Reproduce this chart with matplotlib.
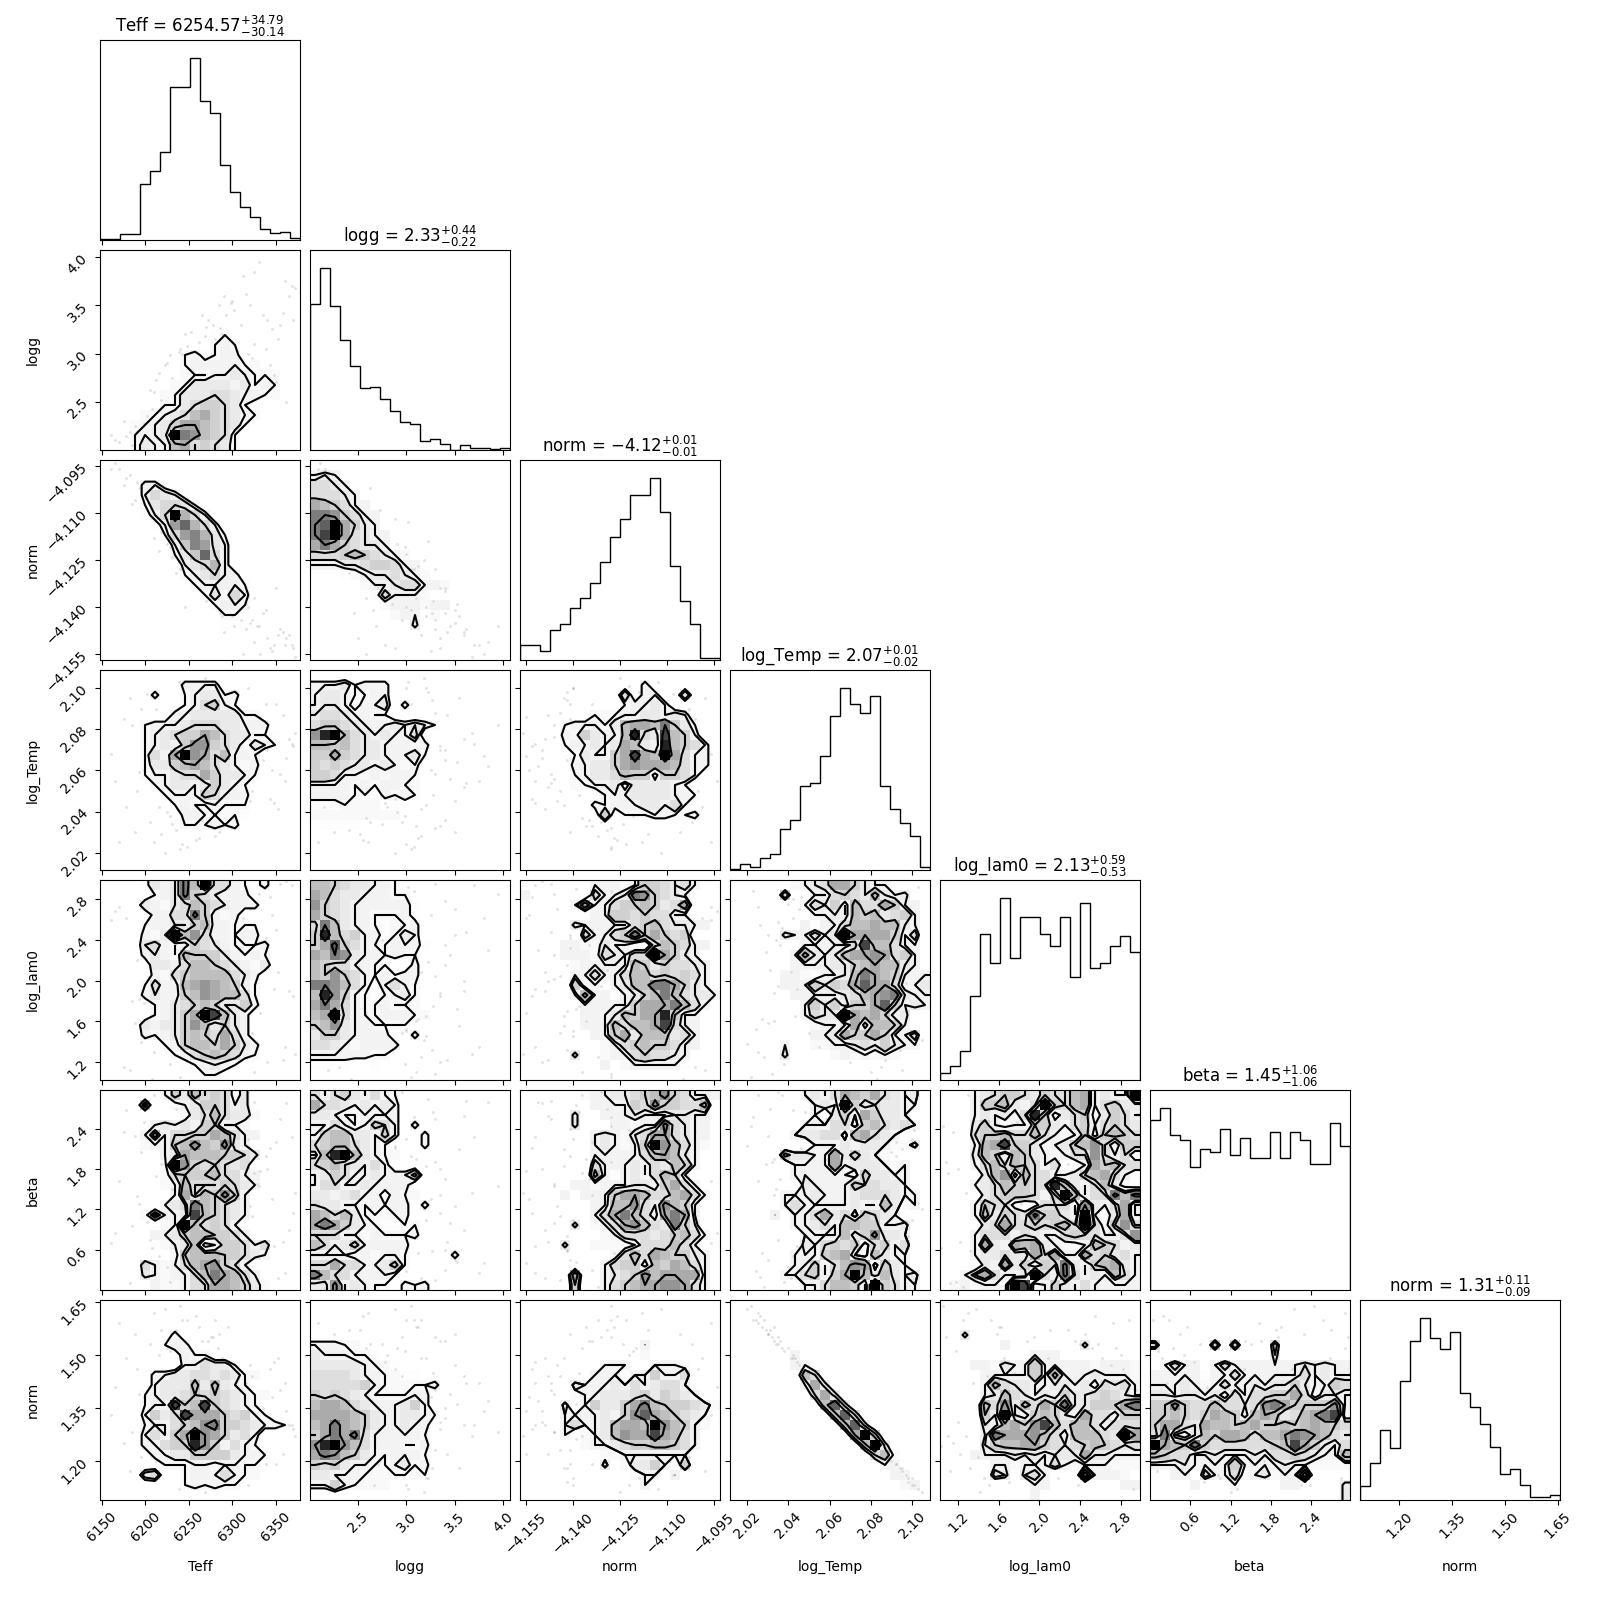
import numpy as np
import matplotlib
matplotlib.use("Agg")
import matplotlib.pyplot as plt
from matplotlib.colors import LinearSegmentedColormap

names = ["Teff", "logg", "norm", "log_Temp", "log_lam0", "beta", "norm"]
titles = [r"Teff = $6254.57_{-30.14}^{+34.79}$", r"logg = $2.33_{-0.22}^{+0.44}$",
          r"norm = $-4.12_{-0.01}^{+0.01}$", r"log_Temp = $2.07_{-0.02}^{+0.01}$",
          r"log_lam0 = $2.13_{-0.53}^{+0.59}$", r"beta = $1.45_{-1.06}^{+1.06}$",
          r"norm = $1.31_{-0.09}^{+0.11}$"]
ranges = [(6147.7, 6377.6), (1.998, 4.075), (-4.1569, -4.0931), (2.0116, 2.1087),
          (1.0217, 2.99), (0.0, 2.98), (1.088, 1.656)]
tick_vals = [[6150, 6200, 6250, 6300, 6350], [2.5, 3.0, 3.5, 4.0],
             [-4.155, -4.14, -4.125, -4.11, -4.095], [2.02, 2.04, 2.06, 2.08, 2.10],
             [1.2, 1.6, 2.0, 2.4, 2.8], [0.6, 1.2, 1.8, 2.4], [1.20, 1.35, 1.50, 1.65]]
tick_txt = [["6150", "6200", "6250", "6300", "6350"], ["2.5", "3.0", "3.5", "4.0"],
            ["\u22124.155", "\u22124.140", "\u22124.125", "\u22124.110", "\u22124.095"],
            ["2.02", "2.04", "2.06", "2.08", "2.10"], ["1.2", "1.6", "2.0", "2.4", "2.8"],
            ["0.6", "1.2", "1.8", "2.4"], ["1.20", "1.35", "1.50", "1.65"]]

hist_teff = [2,2,17,17,168,206,263,458,458,545,417,380,225,144,98,68,33,21,24,6]
hist_logg = [438,547,433,330,253,186,189,154,118,84,78,27,33,19,1,15,6,6,2,7]
hist_norm = [44,44,26,89,108,155,185,230,293,368,422,494,494,545,443,282,176,108,7,7]
hist_temp = [2,18,9,35,48,123,150,252,260,341,461,545,498,471,521,252,182,141,101,10]
hist_lam0 = [20,41,86,252,438,351,546,366,489,489,438,403,489,309,531,336,351,403,433,385]
hist_beta = [509,545,464,449,368,423,413,482,404,455,395,395,473,395,473,449,377,377,500,431]
hist_norm2 = [42,111,210,156,357,477,546,486,453,504,321,279,228,159,78,93,45,10,10,14]
hists = [hist_teff, hist_logg, hist_norm, hist_temp, hist_lam0, hist_beta, hist_norm2]

Z = "0" * 20
# counts per 20x20 cell, top row first, one hex digit per cell
H_1_0 = [Z,Z,Z,Z,Z,Z,Z,Z,"00000000000120000000","00000000000232000000","00000000231233000000",
 "00000000233333220000","00000000222334322200","00000002244443423200","00000022444554332200",
 "00000022456654210000","00002234578654320000","00022346887654200000","0002334ea97652000000",
 "00024337856542000000"]
H_2_0 = [Z,Z,"00003310000000000000","00003543100000000000","00002455420000000000","0000135d753000000000",
 "00000138a75300000000","00000025897420000000","00000003698430000000","0000000246a530000000",
 "00000000345730000000","00000000234533000000","00000000023333200000","00000000002425300000",
 "00000000000233200000","00000000000022100000","00000000000011110000",Z,Z,Z]
H_3_0 = [Z,"00000000333300000000","00000300234423000000","00000000235632000000","00000003344444220000",
 "00002333455544333000","00002345668754422100","00002343699654243200","00002538e98573320000",
 "00002446787543230000","00002334558644320000","00000234434643200000","00000023336533300000",
 "00000002322322200000","00000000332222100000","00000001222323000000",Z,Z,Z,Z]
H_4_0 = ["00001434a7e553213000","00000234a65433300000","00004324576543330000","000003355a6323000000",
 "00002334467332220000","0000324e795332330000","00004532365432223000","00003432766643232000",
 "00000443577654324000","00000325677775430000","00002533789876320000","00003433679877520000",
 "00000234567644630000","0000023468ec74300000","00004344697464300000","00003234676585300000",
 "00000023677686430000","00000002356765320000","00000000123432000000","00000000012210000000"]
H_5_0 = ["00000036475652400000","00007002346653400000","00000000245754420000","00000343436633200000",
 "00003735566875330000","00002336797694300000","00000034877766540000","0000002e965654500000",
 "00000025666755330000","00000023755565430000","00000003857696300000","000000345a7654300000",
 "000027334c7654300000","00000023e75653000000","00000334677665300000","00000023472366535000",
 "00000002677766543000","00005323578965300000","00004323357a87530000","00000322355887642000"]
H_6_0 = [Z,Z,Z,"00000003000000000000","00000023300000000000","00000001322000000000","00000000335442000000",
 "00000334455454220000","00000344474743200000","00002344565654322000","0000233c67c654320000",
 "00003645c88865632000","00002335679a66543320","000035368e9864530000","000033566d9635320000",
 "00000334466664332000","00000022233233221000","00004500233353220000","00000000232322000000",Z]
H_2_1 = [Z,"34300000000000000000","55430000000000000000","55543000000000000000","87653300000000000000",
 "aa965330000000000000","abe86430000000000000","ace85433000000000000","8a865443000000000000",
 "55567654320000000000","33344566533000000000","00012344543200000000","00000233455332000000",
 "00000025333200000000","00000002333233000000","00000000233020000000","00000000004000000000",Z,Z,Z]
H_3_1 = [Z,"33342333000000000000","34432233000000000000","34431334030000000000","45543322000000000000",
 "56654333434320000000","9de75434335000000000","77675443332300000000","66865443334200000000",
 "65654434323000000000","66533232332000000000","33332323322000000000","33332203232000000000",
 "11122220110000000000","22222222200000000000","01111000000000000000",Z,Z,Z,Z]
H_4_1 = ["77654433210000000000","87544333220000000000","96543333331000000000","86543322231000000000",
 "5a743321223000000000","6d756331243000000000","68b65322333100000000","87a94332322000000000",
 "76553322003000000000","76965323233000000000","aa975313532000000000","7d963212342000000000",
 "8a853223222000000000","78e53223332200000000","67943322220000000000","46643333003000000000",
 "55432333300000000000","33333322000000000000","11110010000000000000",Z]
H_5_1 = ["53564353200000000000","85543434300000000000","44322333300000000000","33532365303000000000",
 "36774436300300000000","56775432000300000000","27de7432200000000000","56754353000000000000",
 "34653343336000000000","35533433330000000000","44345331322000000000","54433232330300000000",
 "87574222230000000000","8a864321122000000000","55533232223000000000","75346333330000000000",
 "33332323320000300000","55855334620000000000","a7553333200000000000","44934322032300000000"]
H_6_1 = [Z,Z,Z,Z,"33322000000000000000","43332210000000000000","44444322100000000000","55554332211000000000",
 "55555632222230000000","65654322223300000000","78875433346300000000","88887643344320000000",
 "78a87643343300000000","68a8a533333200000000","9de97533322300000000","8a976432333200000000",
 "65643322342300000000","44333222222200000000","33632222000000000000",Z]
H_3_2 = [Z,"00000000000030000000","00000000005033005000","00000000002334300000","00000002223344343000",
 "00002333247887a64200","00003264337d54c76300","00002334348743d76530","00000243368c87e85330",
 "00000334468988875330","00000234457662665300","00000223341444432000","00000000233444433200",
 "00000003233344352000","00000000602223322300",Z,Z,Z,Z,Z]
H_4_2 = ["00000003332366545300","30000005334a96543000","00000383356676458000","00000003366565533000",
 "00000433333567544330","00000053356a68656000","00003322433115765330","0000333254355e864300",
 "00000233333764655430","00000335335775656530","0000062313477aa86430","00000373313467a75443",
 "000000333336888a7530","00000033347688d63300","00000033375778c53300","00000003368477745300",
 "00000000235676653300","00000400233565543000","00000000302333331000",Z]
H_5_2 = ["00000023344567965333","00000003333659665570","00000400333433344330","00000400033233954330",
 "00000003432458854330","0000000343236e975320","00000003333357874300","00000005333435476300",
 "00000007313435763000","00000332333443685300","00003033368875578530","00000003377954976300",
 "0000000358a7538a8300","000004023589754a6400","00000000235554567530","00004002222355575300",
 "00000000025758766430","00000000356637687530","00000800345697888830","00000600356788998530"]
H_6_2 = [Z,Z,Z,Z,"00000000000030000000","00000000000020000000","00000000333003332000","00000003331336335000",
 "00000433343534553000","00000233444564654300","000040364468a7666542","000033334369b8765430",
 "0000353347887e976320","0000302347988c875300","00000023345667765300","00000000223333333000",
 "00000000402446306000","00000000000233030000","00000000000030000000",Z]
H_4_3 = ["00000023458864330000","00000600335654743400","00000003546375586330","00000000334376745630",
 "00000003133577877430","00000433534e88886350","0000000333335c775330","00000037434788985630",
 "00000033334467877430","0000033213347a876333","0000033364658b885234","0000003333345789a433",
 "000000036463668b6343","00000003544e87863400","00000000233483776300","00000000334866863350",
 "00000300223345464330","00000400002323232000",Z,Z]
H_5_3 = ["00000003435876854340","00000000343e64544330","00000000314638644300","00000003335526754530",
 "00000034455278543000","00000000333434432240","00000644338464321000","00000033338344432300",
 "00000033333326443300","00000004333365544300","00000333433345554330","00000353333343374230",
 "00003033584526543000","00000033453776633400","00000003333746944300","00000004356562563500",
 "00000033367832743300","00000033635798264300","000003356368e7474340","00000003357763e65330"]
H_6_3 = [Z,Z,Z,Z,Z,"00000030000000000000","00000033000000000000","00000007500000000000","00000003840000000000",
 "00000000584000000000","0000000007b400000000","00000000007b50000000","000000000007b4000000",
 "0000000000008e600000","00000000000007e40000","00000000000000572000","00000000000000033000",
 "00000000000000003300","00000000000000000230",Z]
H_5_4 = ["0003456654655783433e","0003667435e657835644","000343425d6245624653","00046323366435635654",
 "00056675575323626765","000378c6642346795166","00047637643235595351","00035757653511386755",
 "00004792755334678531","00034576655d74357421","000045666536e7355a7a","00036552125553943583",
 "000374654a6643e32483","00004585565675e52695","00035553543356553359","00038438784322376534",
 "00034454485833856453","000043846365a4367843","003685334e53a5343753","0231332ec13643533333"]
H_6_4 = [Z,Z,Z,"00400000000000000000","00000030000000400000","00000000033300000000","00033243363333323332",
 "00003333363733343332","00003754433443425453","00003475434364456543","000075947586a446668a",
 "000064e4367643855366","0000437869c757753555","00003a888975377754e8","00004677886545676545",
 "00033334343444844333","00000332333532333222","00000540453000a33320","00000000033000000033",
 "00000000030000000000"]
H_6_5 = [Z,Z,Z,Z,"50000060600050000000","00000000000040000000","03533035333333343433","33333133533333353433",
 "33343235334344643365","44344342535566852443","669655755459a8666693","66765687637874578ac2",
 "68854877678667678765","5a324768875778a98754","e876a655555567c86435","76553343334355654337",
 "33343333633334332222","003305335234233a0000","00003000300003300004","00000000000000000004"]
grids = {(1,0):H_1_0,(2,0):H_2_0,(3,0):H_3_0,(4,0):H_4_0,(5,0):H_5_0,(6,0):H_6_0,
         (2,1):H_2_1,(3,1):H_3_1,(4,1):H_4_1,(5,1):H_5_1,(6,1):H_6_1,
         (3,2):H_3_2,(4,2):H_4_2,(5,2):H_5_2,(6,2):H_6_2,
         (4,3):H_4_3,(5,3):H_5_3,(6,3):H_6_3,(5,4):H_5_4,(6,4):H_6_4,(6,5):H_6_5}

# outlying samples seen as faint dots: Teff, logg, norm, log_Temp, log_lam0, beta, norm2
s_teff = [6360,6330,6325,6365,6320,6300,6285,6340,6355,6310,6270,6245,6160,6175,6190,6210,6225,6295,6335,6350,
          6370,6315,6280,6265,6240,6305,6345,6195,6215,6290,6325,6258,6275,6302,6318,6230,6185,6235,6288,6312,
          6170,6182,6198,6205,6222,6238,6252,6262,6278,6293,6308,6322,6338,6348,6362,6372,6165,6188,6212,6228,
          6248,6268,6283,6298,6328,6343,6358,6178,6202,6218,6242,6256,6272,6286,6316,6332,6352,6368,6192,6208]
s_logg = [3.75,3.95,3.85,3.6,3.5,3.55,3.5,3.35,3.3,3.3,3.28,3.2,2.15,2.3,2.2,2.6,2.9,3.1,3.4,2.7,
          3.35,2.85,3.15,3.4,3.05,2.45,3.25,2.12,2.8,3.6,3.1,2.55,2.95,3.45,3.0,2.75,2.05,2.4,3.2,3.8,
          2.08,2.18,2.28,2.62,2.88,3.02,3.22,3.12,3.3,3.4,2.65,2.95,3.05,2.78,2.5,3.68,2.1,2.25,2.72,2.98,
          3.08,3.18,2.58,3.52,2.68,2.88,3.42,2.14,2.35,2.52,3.0,2.66,3.35,3.26,3.62,2.58,3.15,3.7,2.2,2.42]
s_norm = [-4.152,-4.146,-4.151,-4.149,-4.145,-4.143,-4.141,-4.15,-4.147,-4.144,-4.138,-4.14,-4.096,-4.101,-4.1,-4.118,
          -4.12,-4.136,-4.142,-4.134,-4.153,-4.139,-4.132,-4.135,-4.128,-4.142,-4.154,-4.103,-4.122,-4.148,-4.137,-4.126,
          -4.131,-4.146,-4.14,-4.124,-4.107,-4.129,-4.143,-4.155,
          -4.096,-4.098,-4.104,-4.102,-4.112,-4.113,-4.119,-4.127,-4.128,-4.134,-4.141,-4.144,-4.141,-4.152,-4.15,-4.156,
          -4.094,-4.106,-4.109,-4.121,-4.128,-4.125,-4.137,-4.139,-4.146,-4.153,-4.148,-4.099,-4.108,-4.116,-4.123,-4.122,
          -4.134,-4.142,-4.147,-4.155,-4.149,-4.152,-4.102,-4.105]
s_temp = [2.055,2.082,2.062,2.075,2.045,2.095,2.03,2.07,2.058,2.088,2.048,2.1,2.068,2.085,2.05,2.025,2.04,2.033,2.065,2.092,
          2.072,2.078,2.028,2.036,2.022,2.098,2.06,2.09,2.042,2.052,2.08,2.026,2.035,2.056,2.1,2.034,2.082,2.031,2.043,2.067,
          2.025,2.095,2.06,2.035,2.02,2.103,2.098,2.027,2.032,2.07,2.085,2.05,2.092,2.044,2.066,2.078,2.055,2.03,2.09,2.038,
          2.023,2.105,2.037,2.064,2.076,2.046,2.087,2.042,2.097,2.029,2.024,2.101,2.033,2.094,2.054,2.086,2.041,2.073,2.059,2.083]
s_lam0 = [1.35,2.85,2.3,1.9,2.7,1.55,2.45,1.2,2.95,2.05,1.75,1.45,2.6,1.15,2.2,1.3,2.75,1.6,2.15,2.5,
          1.85,2.9,1.25,2.35,1.05,1.7,2.65,1.4,2.8,2.0,1.1,2.55,1.95,2.25,1.5,2.4,1.8,2.1,1.65,2.62,
          2.72,1.12,1.78,2.58,1.38,2.92,2.18,1.62,1.08,2.78,2.32,1.48,2.42,1.92,2.98,1.28,2.68,1.58,2.12,1.18,
          2.88,1.42,2.52,1.72,2.02,2.82,1.22,2.62,1.98,2.28,1.52,2.38,1.88,1.32,2.48,1.68,2.08,2.94,1.82,1.03]
s_beta = [0.25,1.55,2.8,0.9,1.25,2.1,0.45,1.8,2.55,0.15,2.65,1.05,0.7,2.35,1.4,2.9,0.35,1.95,0.6,2.2,
          1.15,2.75,0.05,1.65,2.45,0.8,1.35,2.05,0.5,2.6,1.75,0.2,2.95,1.0,2.25,1.5,0.95,2.7,1.85,0.4,
          1.62,0.1,2.5,0.75,2.15,1.3,2.85,0.55,1.9,0.3,2.4,1.1,2.0,0.65,2.78,1.45,0.85,2.3,1.7,0.12,
          2.58,1.2,2.9,0.42,1.58,2.12,0.72,2.68,1.02,1.88,0.28,2.38,1.42,0.58,2.82,1.78,0.18,2.28,1.28,0.62]
s_norm2 = [1.42,1.28,1.37,1.30,1.47,1.18,1.56,1.31,1.40,1.23,1.45,1.15,1.33,1.25,1.46,1.62,1.52,1.58,1.35,1.19,
           1.29,1.26,1.60,1.54,1.64,1.14,1.38,1.21,1.50,1.44,1.27,1.61,1.55,1.39,1.13,1.53,1.28,1.57,1.49,1.34,
           1.59,1.17,1.38,1.53,1.63,1.12,1.15,1.58,1.55,1.32,1.23,1.44,1.19,1.48,1.34,1.27,1.41,1.56,1.2,1.51,
           1.6,1.11,1.52,1.36,1.28,1.46,1.22,1.49,1.16,1.57,1.6,1.13,1.54,1.18,1.42,1.22,1.49,1.3,1.39,1.24]
samples = [s_teff, s_logg, s_norm, s_temp, s_lam0, s_beta, s_norm2]

fig, axes = plt.subplots(7, 7, figsize=(16, 16), dpi=100)
fig.subplots_adjust(left=1/16, right=15.6/16, bottom=1/16, top=15.6/16, wspace=0.05, hspace=0.05)

density_cmap = LinearSegmentedColormap.from_list("density", [(0, 0, 0, 1), (1, 1, 1, 0)])
white_cmap = LinearSegmentedColormap.from_list("white", [(1, 1, 1), (1, 1, 1)], N=2)
fractions = [0.13, 0.42, 0.72, 0.93]


def levels_of(H):
    flat = np.sort(H.flatten())[::-1]
    cum = np.cumsum(flat)
    cum = cum / cum[-1]
    V = np.empty(len(fractions))
    for k, v0 in enumerate(fractions):
        try:
            V[k] = flat[cum <= v0][-1]
        except IndexError:
            V[k] = flat[0]
    V.sort()
    m = np.diff(V) == 0
    while np.any(m):
        V[np.where(m)[0][0]] *= 1.0 - 1e-4
        m = np.diff(V) == 0
    V.sort()
    return V


def draw_cell(ax, i, j):
    H = np.array([[int(ch, 16) for ch in row.ljust(20, "0")[:20]] for row in grids[(i, j)]], float)[::-1]
    X = np.linspace(*ranges[j], 21)
    Y = np.linspace(*ranges[i], 21)
    ax.plot(samples[j], samples[i], "o", ms=2, mec="none", color="k", alpha=0.12, zorder=-1)
    V = levels_of(H)
    X1, Y1 = 0.5 * (X[1:] + X[:-1]), 0.5 * (Y[1:] + Y[:-1])
    H2 = H.min() + np.zeros((H.shape[0] + 4, H.shape[1] + 4))
    H2[2:-2, 2:-2] = H
    H2[2:-2, 1] = H[:, 0]
    H2[2:-2, -2] = H[:, -1]
    H2[1, 2:-2] = H[0]
    H2[-2, 2:-2] = H[-1]
    H2[1, 1] = H[0, 0]
    H2[1, -2] = H[0, -1]
    H2[-2, 1] = H[-1, 0]
    H2[-2, -2] = H[-1, -1]
    dx, dy = X1[1] - X1[0], Y1[1] - Y1[0]
    X2 = np.concatenate([X1[0] + np.array([-2, -1]) * dx, X1, X1[-1] + np.array([1, 2]) * dx])
    Y2 = np.concatenate([Y1[0] + np.array([-2, -1]) * dy, Y1, Y1[-1] + np.array([1, 2]) * dy])
    ax.contourf(X2, Y2, H2, [V.min(), H.max()], cmap=white_cmap, antialiased=False)
    ax.pcolor(X, Y, H.max() - H, cmap=density_cmap, shading="flat")
    ax.contour(X2, Y2, H2, V, colors="k")
    ax.set_xlim(ranges[j])
    ax.set_ylim(ranges[i])


for i in range(7):
    for j in range(7):
        ax = axes[i, j]
        if j > i:
            ax.set_visible(False)
            continue
        if i == j:
            edges = np.linspace(*ranges[i], 21)
            ax.stairs(hists[i], edges, color="k", baseline=0)
            ax.set_xlim(ranges[i])
            ax.set_ylim(0, 1.1 * max(hists[i]))
            ax.set_yticks([])
            ax.set_title(titles[i], fontsize=12)
        else:
            draw_cell(ax, i, j)
            ax.set_yticks(tick_vals[i])
            if j == 0:
                ax.set_yticklabels(tick_txt[i], rotation=45)
                ax.set_ylabel(names[i])
                ax.yaxis.set_label_coords(-0.3, 0.5)
            else:
                ax.set_yticklabels([])
        ax.set_xticks(tick_vals[j])
        if i == 6:
            ax.set_xticklabels(tick_txt[j], rotation=45)
            ax.set_xlabel(names[j])
            ax.xaxis.set_label_coords(0.5, -0.3)
        else:
            ax.set_xticklabels([])

fig.savefig("out.png", dpi=100)
